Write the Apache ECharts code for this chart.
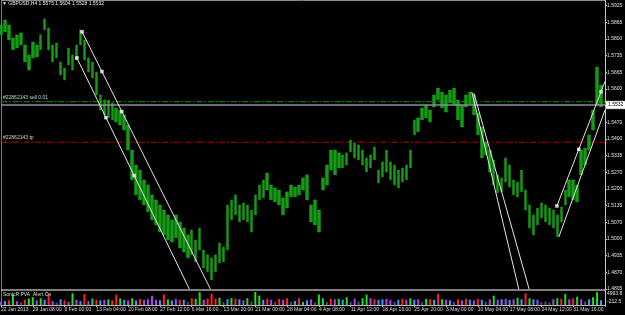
<!DOCTYPE html>
<html><head><meta charset="utf-8">
<script src="https://cdn.jsdelivr.net/npm/echarts@6/dist/echarts.min.js"></script>
<style>html,body{margin:0;padding:0;background:#000;}#c{width:625px;height:315px;}</style>
</head><body><div id="c"></div>
<script>
const FONT = 'Liberation Sans';
const titleText = '\u25BC GBPUSD,H4 1.5575 1.5604 1.5528 1.5532';
const timeLabels = ['22 Jan 2013','29 Jan 08:00','6 Feb 00:00','13 Feb 04:00','20 Feb 08:00','27 Feb 12:00','6 Mar 16:00','13 Mar 20:00','21 Mar 00:00','28 Mar 04:00','4 Apr 08:00','11 Apr 12:00','18 Apr 16:00','25 Apr 20:00','3 May 00:00','10 May 04:00','17 May 08:00','24 May 12:00','31 May 16:00'];
const priceTicks = ['1.5925','1.5865','1.5800','1.5735','1.5665','1.5600','','1.5470','1.5400','1.5335','1.5270','1.5200','1.5135','1.5070','1.5000','1.4935','1.4870','1.4805'];
const volTicks = ['4993.8','-212.5'];

// price bars, one per group of 4 H4 bars (high / low)
const highs = [1.5848,1.5868,1.5848,1.5797,1.5809,1.5817,1.5769,1.5730,1.5781,1.5769,
1.5809,1.5872,1.5836,1.5769,1.5777,1.5702,1.5678,1.5757,1.5730,1.5769,
1.5829,1.5789,1.5718,1.5702,1.5662,1.5572,1.5552,1.5552,1.5540,1.5520,
1.5512,1.5493,1.5453,1.5354,1.5295,1.5275,1.5236,1.5216,1.5177,1.5157,
1.5137,1.5117,1.5098,1.5078,1.5098,1.5070,1.5046,1.5019,1.5038,1.4999,
1.5046,1.4959,1.4940,1.4928,1.4940,1.4987,1.4971,1.5137,1.5157,1.5177,
1.5137,1.5145,1.5137,1.5117,1.5177,1.5216,1.5236,1.5263,1.5216,1.5204,
1.5196,1.5165,1.5189,1.5216,1.5208,1.5216,1.5244,1.5256,1.5137,1.5157,
1.5117,1.5244,1.5295,1.5354,1.5354,1.5343,1.5335,1.5343,1.5394,1.5382,
1.5374,1.5354,1.5323,1.5335,1.5366,1.5275,1.5307,1.5354,1.5307,1.5295,
1.5275,1.5283,1.5295,1.5354,1.5473,1.5481,1.5520,1.5532,1.5512,1.5572,
1.5599,1.5583,1.5572,1.5591,1.5599,1.5552,1.5532,1.5572,1.5583,1.5572,
1.5500,1.5445,1.5386,1.5354,1.5315,1.5256,1.5244,1.5323,1.5295,1.5236,
1.5228,1.5275,1.5196,1.5137,1.5098,1.5125,1.5145,1.5137,1.5125,1.5117,
1.5098,1.5129,1.5196,1.5236,1.5236,1.5216,1.5354,1.5362,1.5414,1.5512,
1.5682,1.5611];
const lows = [1.5809,1.5821,1.5789,1.5750,1.5757,1.5769,1.5702,1.5670,1.5718,1.5722,
1.5750,1.5829,1.5750,1.5702,1.5718,1.5651,1.5631,1.5690,1.5670,1.5710,
1.5769,1.5710,1.5662,1.5639,1.5572,1.5512,1.5493,1.5481,1.5473,1.5465,
1.5453,1.5433,1.5354,1.5236,1.5177,1.5157,1.5137,1.5110,1.5078,1.5058,
1.5030,1.5019,1.4999,1.4991,1.5007,1.4967,1.4951,1.4928,1.4940,1.4912,
1.4959,1.4888,1.4873,1.4841,1.4873,1.4908,1.4912,1.4959,1.5078,1.5098,
1.5070,1.5078,1.5070,1.5030,1.5098,1.5157,1.5165,1.5196,1.5157,1.5149,
1.5137,1.5098,1.5125,1.5169,1.5169,1.5177,1.5196,1.5157,1.5070,1.5058,
1.5030,1.5196,1.5216,1.5275,1.5256,1.5283,1.5283,1.5295,1.5347,1.5323,
1.5315,1.5295,1.5267,1.5283,1.5315,1.5224,1.5248,1.5267,1.5236,1.5216,
1.5204,1.5228,1.5236,1.5283,1.5414,1.5426,1.5473,1.5481,1.5465,1.5524,
1.5552,1.5520,1.5504,1.5540,1.5532,1.5473,1.5445,1.5524,1.5536,1.5493,
1.5414,1.5323,1.5335,1.5267,1.5216,1.5185,1.5189,1.5228,1.5208,1.5177,
1.5169,1.5189,1.5117,1.5046,1.5019,1.5058,1.5086,1.5070,1.5058,1.5046,
1.5011,1.5070,1.5137,1.5169,1.5157,1.5149,1.5256,1.5295,1.5354,1.5433,
1.5532,1.5524];

// SonicR PVA volume histogram
const volumes = [1200,1500,1800,4000,1500,1000,2000,2500,3000,1800,
2600,2000,4200,1500,1000,2200,1800,1200,4500,2000,
1500,4200,1500,2500,2000,1800,2000,2200,1800,4000,
2500,2000,1800,2600,1800,2400,2000,2200,3600,2000,
1800,4000,2200,1800,2400,2000,2000,1200,2600,2400,
4900,2000,2400,4300,2400,2800,1200,2200,2600,2400,
2200,1800,2600,1400,5000,3600,2000,2400,2000,1200,
2400,2000,2600,1200,1600,2600,1200,1800,2200,1000,
4000,2600,1200,2400,2200,2400,2000,3000,1200,2400,
1400,2600,4000,2600,2200,2000,2200,2400,2000,1200,
2000,2400,2000,2600,2000,2200,1200,2400,2200,2000,
4200,2200,2000,1800,1200,2200,1800,2400,2000,1800,
2400,2000,1200,2200,3600,2000,2200,2400,2000,2200,
2800,2200,4500,2600,2200,2000,1200,1400,1000,2200,
2600,2400,4200,2200,2600,3200,2200,1400,2200,3000,
4900,1800];
const volColors = ['v','b','r','g','v','s','r','g','g','v',
'g','b','r','v','s','b','r','v','g','v',
'b','r','v','g','r','b','v','g','r','r',
'g','b','v','g','b','r','v','v','v','v',
'b','r','g','b','v','r','b','s','r','g',
'g','v','r','r','r','g','s','b','g','r',
'b','v','g','s','g','g','b','r','v','s',
'r','v','r','s','b','r','g','b','v','s',
'g','g','s','r','v','g','b','g','s','v',
's','g','g','v','r','b','b','v','v','s',
'b','r','v','g','b','v','s','g','r','b',
'r','g','v','b','s','r','v','r','b','v',
'r','b','s','v','g','v','b','v','b','v',
'g','b','r','g','b','v','s','s','s','v',
'g','r','g','v','r','g','v','s','b','g',
'g','b'];
const palette = {g:'#22dd22', r:'#ff2020', b:'#3a9cff', v:'#b040f0', s:'#4a4a7c'};

// order lines
const sellLevel = 1.5545, tpLevel = 1.5385, bidLevel = 1.5532;
const sellText = '#22862143 sell 0.01', tpText = '#22862143 tp', bidText = '1.5532';

// trend channels (x in bar-group index, y in price)
const chan1Upper = [[20.4,1.5821],[52.7,1.4805]];
const chan1Lower = [[19.1,1.5718],[47.4,1.4805]];
const chan2A = [[118.5,1.5583],[130.3,1.4805]];
const chan2B = [[119.0,1.5579],[132.9,1.4805]];
const chan3Upper = [[139.9,1.5133],[152,1.5625]];
const chan3Lower = [[140.4,1.5011],[152,1.5512]];
const anchorDots = [[19.1,1.5718],[20.4,1.5821],[25.4,1.5664],[26.4,1.5482],[30.4,1.5506],[33.5,1.5253],[139.9,1.5133],[145.4,1.5357],[151,1.5584]];

const N = highs.length + 1;
const cats = Array.from({length: N}, (_, i) => String(i));

const chart = echarts.init(document.getElementById('c'), null, {renderer: 'canvas'});
const txt = (c) => ({color: c, fontSize: 5, fontFamily: FONT, fontWeight: 'normal'});
const trend = (d) => ({type: 'line', xAxisIndex: 1, yAxisIndex: 0, data: d, symbol: 'none', silent: true,
  lineStyle: {color: '#e4e4e4', width: 1}, z: 5});
const hLine = (level, color, width, type, z, labelText, endText) => ({
  type: 'line', xAxisIndex: 1, yAxisIndex: 0, symbol: 'circle', symbolSize: 0, showSymbol: true, silent: true, z: z,
  itemStyle: {color: color},
  lineStyle: {color: color, width: width, type: type},
  data: [
    labelText ? {value: [0, level], label: {show: true, position: 'right', distance: 2, offset: [0, -4.5], formatter: labelText,
      color: '#d0d0d0', fontSize: 5, fontFamily: FONT}} : [0, level],
    [N - 1, level]
  ],
  endLabel: endText ? {show: true, formatter: endText, distance: 1, color: '#000', backgroundColor: '#fff',
    borderColor: '#999', borderWidth: 0.5, padding: [1.5, 2, 1, 2], fontSize: 5, fontFamily: FONT} : {show: false}
});

chart.setOption({
  backgroundColor: '#000',
  animation: false,
  title: [
    {text: titleText, left: 2, top: 1.5, padding: 0, textStyle: txt('#e8e8e8')},
    {text: 'SonicR PVA', left: 3, top: 292.5, padding: 0, textStyle: txt('#d8d8d8')},
    {text: 'Alert On', left: 33, top: 292.5, padding: 0, textStyle: txt('#d8d8d8')}
  ],
  grid: [
    {left: 1, top: 5.5, width: 604, height: 283.5, outerBoundsMode: 'none'},
    {left: 1, top: 292, width: 604, height: 13, outerBoundsMode: 'none'},
    {left: 1, top: 294, width: 604, height: 7.7, outerBoundsMode: 'none'}
  ],
  xAxis: [
    {type: 'category', gridIndex: 0, data: cats, boundaryGap: false, show: false},
    {type: 'value', gridIndex: 0, min: 0, max: N - 1, show: false},
    {type: 'category', gridIndex: 1, data: cats, boundaryGap: false,
      axisLine: {show: true, lineStyle: {color: '#b8b8b8', width: 1}},
      axisTick: {show: true, interval: 7, length: 2, lineStyle: {color: '#b8b8b8'}},
      axisLabel: {interval: 7, align: 'left', margin: 2.5, color: '#d8d8d8', fontSize: 5, fontFamily: FONT,
        formatter: (v, i) => timeLabels[i / 8] || ''},
      splitLine: {show: false}},
    {type: 'value', gridIndex: 2, show: false}
  ],
  yAxis: [
    {type: 'value', gridIndex: 0, min: 1.4805, max: 1.5925, show: false},
    {type: 'value', gridIndex: 0, min: 0, max: 17, interval: 1, position: 'right',
      axisLine: {show: false}, splitLine: {show: false},
      axisTick: {show: true, length: 2, lineStyle: {color: '#c8c8c8'}},
      axisLabel: {margin: 2, color: '#e0e0e0', fontSize: 5, fontFamily: FONT, padding: [0, 0, 2, 0],
        formatter: (v) => priceTicks[17 - v]}},
    {type: 'value', gridIndex: 1, min: 0, max: 5000, show: false},
    {type: 'value', gridIndex: 2, min: 0, max: 1, interval: 1, position: 'right',
      axisLine: {show: false}, axisTick: {show: false}, splitLine: {show: false},
      axisLabel: {margin: 2, color: '#e0e0e0', fontSize: 5, fontFamily: FONT,
        formatter: (v) => volTicks[1 - v]}}
  ],
  series: [
    hLine(sellLevel, '#0a9a0a', 1, [6, 2, 1.5, 2], 1, sellText, null),
    hLine(tpLevel, '#c00000', 1, [6, 2, 1.5, 2], 1, tpText, null),
    {type: 'candlestick', xAxisIndex: 0, yAxisIndex: 0, barWidth: 3, silent: true, z: 2,
      data: highs.map((h, i) => [lows[i], h, lows[i], h]),
      itemStyle: {color: '#139c13', color0: '#139c13', borderColor: '#18a818', borderColor0: '#18a818', borderWidth: 0.4}},
    hLine(bidLevel, '#8a8e94', 1.5, 'solid', 3, null, bidText),
    trend(chan1Upper), trend(chan1Lower), trend(chan2A), trend(chan2B), trend(chan3Upper), trend(chan3Lower),
    {type: 'scatter', xAxisIndex: 1, yAxisIndex: 0, data: anchorDots, symbol: 'rect', symbolSize: 3.5, silent: true,
      itemStyle: {color: '#ffffff'}, z: 6},
    {type: 'bar', xAxisIndex: 2, yAxisIndex: 2, barWidth: 2, silent: true,
      data: volumes.map((v, i) => ({value: v, itemStyle: {color: palette[volColors[i]]}}))}
  ],
  graphic: [
    {type: 'line', silent: true, shape: {x1: 1.5, y1: 0, x2: 1.5, y2: 306}, style: {stroke: '#7a7a7a', lineWidth: 1}},
    {type: 'line', silent: true, shape: {x1: 1, y1: 0.5, x2: 606, y2: 0.5}, style: {stroke: '#8a8a8a', lineWidth: 1}},
    {type: 'line', silent: true, shape: {x1: 605.5, y1: 0, x2: 605.5, y2: 306}, style: {stroke: '#c8c8c8', lineWidth: 1}},
    {type: 'line', silent: true, shape: {x1: 1, y1: 290, x2: 606, y2: 290}, style: {stroke: '#a8a8a8', lineWidth: 1.5}}
  ]
});
</script></body></html>
